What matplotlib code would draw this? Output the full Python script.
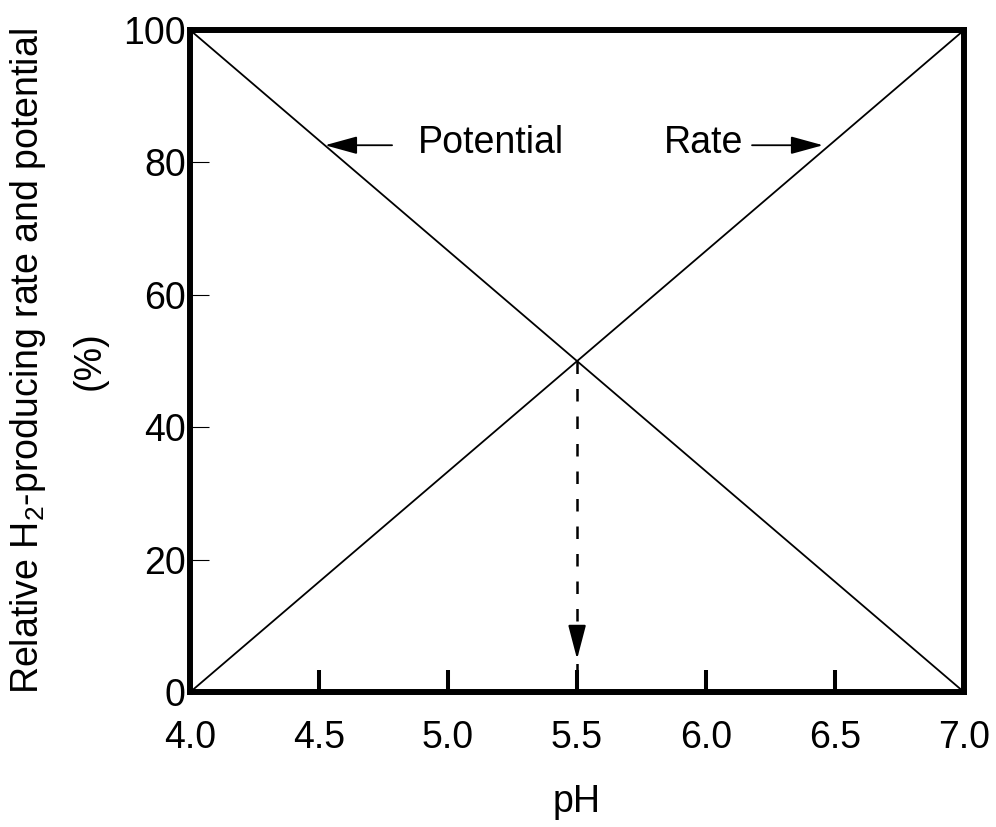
import matplotlib.pyplot as plt

plt.rcParams['font.family'] = ['Liberation Sans', 'DejaVu Sans']
plt.rcParams['mathtext.fontset'] = 'custom'
plt.rcParams['mathtext.rm'] = 'Liberation Sans'
plt.rcParams['mathtext.it'] = 'Liberation Sans'

# data
ph = [4.0, 7.0]
rate = [0, 100]
potential = [100, 0]
cross_ph = 5.5
cross_val = 50
xticks = [4.0, 4.5, 5.0, 5.5, 6.0, 6.5, 7.0]
yticks = [0, 20, 40, 60, 80, 100]

fs = 27

fig = plt.figure(figsize=(9.96, 8.27), dpi=100)
ax = fig.add_axes([0.1908, 0.163, 0.7772, 0.8007])

ax.plot(ph, rate, color='black', lw=1.3)
ax.plot(ph, potential, color='black', lw=1.3)

# dashed drop line from the crossing point
ax.plot([cross_ph, cross_ph], [cross_val, 0], color='black', lw=1.8,
        linestyle=(0, (5, 6)))
ax.annotate('', xy=(cross_ph, 5.0), xytext=(cross_ph, 9.6),
            arrowprops=dict(arrowstyle='-|>,head_length=2.1,head_width=0.55',
                            mutation_scale=10, color='black', lw=1.5,
                            shrinkA=0, shrinkB=0))

# labels with arrows
ax.annotate('', xy=(4.523, 82.6), xytext=(4.783, 82.6),
            arrowprops=dict(arrowstyle='-|>,head_length=2.0,head_width=0.55',
                            mutation_scale=10, color='black', lw=1.3,
                            shrinkA=0, shrinkB=0))
ax.text(4.884, 83.0, 'Potential', fontsize=fs, ha='left', va='center')

ax.annotate('', xy=(6.453, 82.6), xytext=(6.178, 82.6),
            arrowprops=dict(arrowstyle='-|>,head_length=2.0,head_width=0.55',
                            mutation_scale=10, color='black', lw=1.3,
                            shrinkA=0, shrinkB=0))
ax.text(6.143, 83.0, 'Rate', fontsize=fs, ha='right', va='center')

ax.set_xlim(4.0, 7.0)
ax.set_ylim(0, 100)
ax.set_xticks(xticks)
ax.set_xticklabels([f'{t:.1f}' for t in xticks])
ax.set_yticks(yticks)

for s in ax.spines.values():
    s.set_linewidth(4.3)

ax.tick_params(axis='x', direction='in', length=16, width=2.9,
               labelsize=fs, pad=20)
ax.tick_params(axis='y', direction='in', length=14, width=0.8,
               labelsize=fs, pad=3)

ax.set_xlabel('pH', fontsize=fs, labelpad=20)
ax.set_ylabel('Relative H$_2$-producing rate and potential\n(%)',
              fontsize=fs, labelpad=11, linespacing=1.85)

fig.savefig('out.png', dpi=100)
